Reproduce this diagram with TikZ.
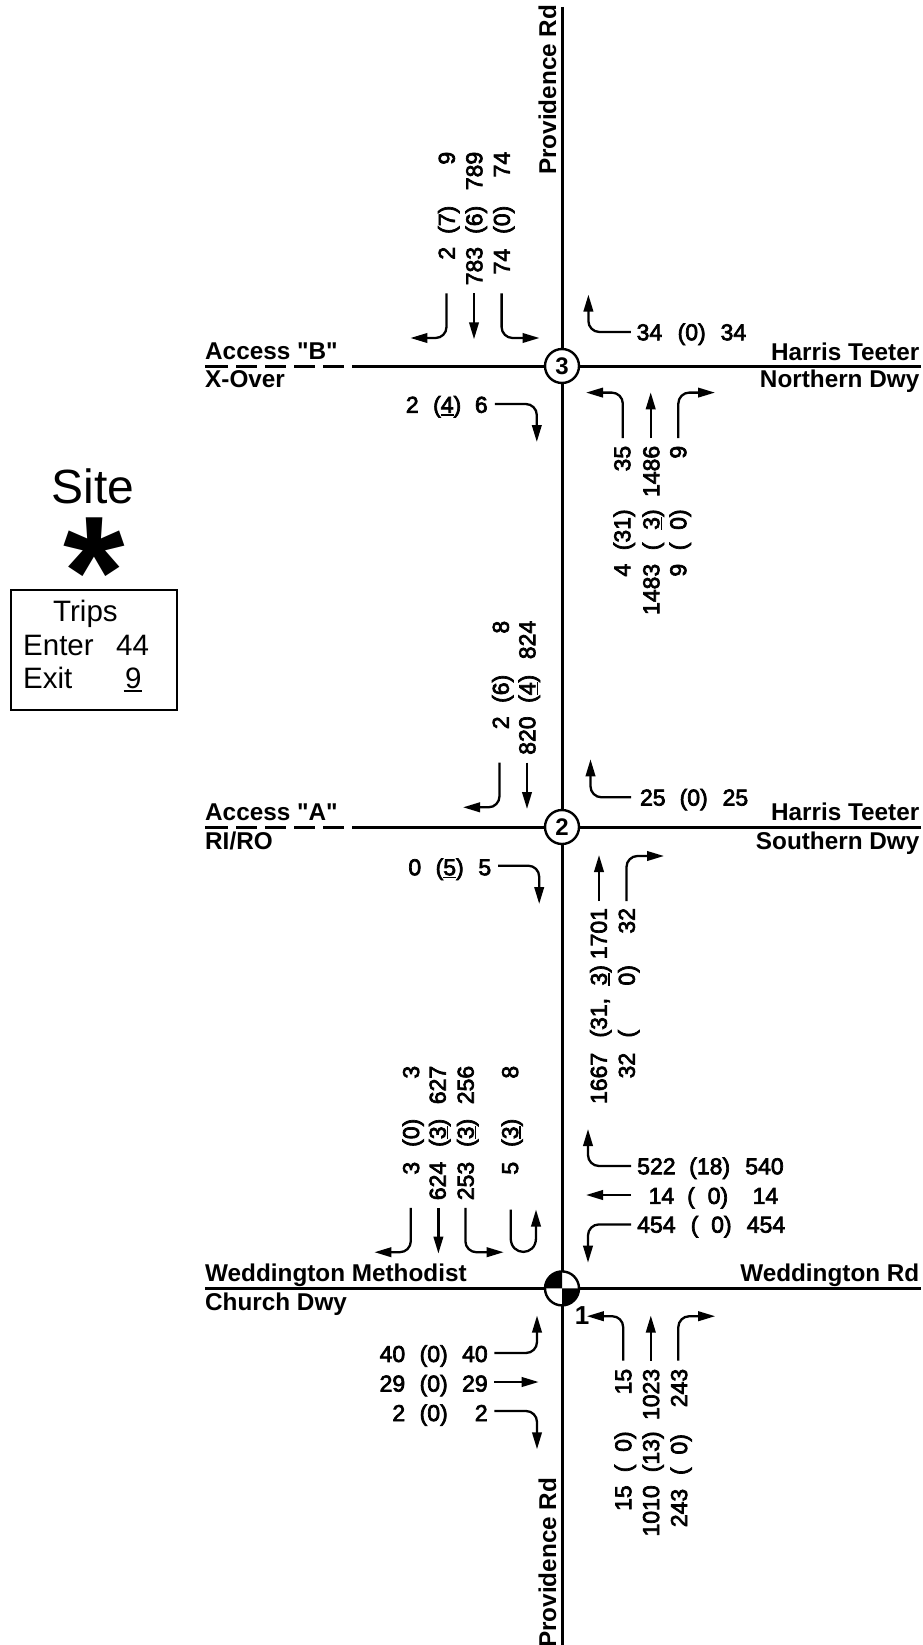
\documentclass[tikz,border=0pt]{standalone}
\usepackage{fontspec}
\usetikzlibrary{arrows.meta}
\setmainfont{Liberation Sans}
\newfontfamily\cadfont[FakeBold=3]{Liberation Sans}
\newfontfamily\boldfont{Liberation Sans Bold}
% #1 right edge of first column, #2 centre of middle column, #3 right edge of last column
\newcommand\tri[6]{\makebox[0pt][l]{\makebox[#1pt][r]{#4}}\makebox[0pt][l]{\makebox[\dimexpr#2pt*2\relax][c]{#5}}\makebox[#3pt][r]{#6}}
\newcommand\ul[1]{\makebox[0pt][l]{\rule[-2.8pt]{.556em}{1.5pt}}#1}
\newcommand\dsp{ \kern.278em }
\tikzset{
  rowh/.style={inner sep=0pt,anchor=west,text height=16.5pt,text depth=0pt,
    font=\cadfont\fontsize{23}{23}\selectfont},
  rowv/.style={rowh,rotate=90},
  roadname/.style={inner sep=0pt,font=\boldfont\fontsize{24.3}{24.3}\selectfont},
  road/.style={line width=3pt},
  mv/.style={line width=2.3pt,rounded corners=11pt,-{Triangle[length=17pt,width=9.5pt]}},
  sig/.style={circle,draw,fill=white,line width=2.4pt,minimum size=34pt,inner sep=0pt,
    font=\boldfont\fontsize{24}{24}\selectfont},
  boxtext/.style={inner sep=0pt,font=\fontsize{29.5}{29.5}\selectfont}
}
\begin{document}
\begin{tikzpicture}[x=1pt,y=-1pt]
\useasboundingbox (0,0) rectangle (922,1645);
% named points on the roads
\coordinate (top) at (562,7);
\coordinate (bot) at (562,1650);
\coordinate (i3p) at (562,366);
\coordinate (i2p) at (562,827);
\coordinate (i1p) at (562,1288.4);
\coordinate (l3) at (205,366);
\coordinate (s3) at (352,366);
\coordinate (r3) at (921,366);
\coordinate (l2) at (205,827);
\coordinate (s2) at (352,827);
\coordinate (r2) at (921,827);
\coordinate (l1) at (205,1288.4);
\coordinate (r1) at (921,1288.4);
% roads
\draw[road] (top) -- (bot);
\draw[road,dash pattern=on 23pt off 8pt on 21pt off 8pt on 21pt off 8pt on 21pt off 8pt on 21pt off 8pt] (l3) -- (s3);
\draw[road] (s3) -- (r3);
\draw[road,dash pattern=on 23pt off 8pt on 21pt off 8pt on 21pt off 8pt on 21pt off 8pt on 21pt off 8pt] (l2) -- (s2);
\draw[road] (s2) -- (r2);
\draw[road] (l1) -- (r1);
% signals
\node[sig] (i3) at (i3p) {3};
\node[sig] (i2) at (i2p) {2};
\node[sig] (i1) at (i1p) {};
\begin{scope}[shift={(i1.center)},x=1pt,y=1pt]
  \fill (0,0) -- (90:17.5) arc (90:180:17.5) -- cycle;
  \fill (0,0) -- (270:17.5) arc (270:360:17.5) -- cycle;
\end{scope}
\node[inner sep=0pt,font=\boldfont\fontsize{26}{26}\selectfont,anchor=base] (n1) at (582,1324) {1};
% road names
\node[roadname,rotate=90,anchor=base west] (provN) at (556,175) {Providence Rd};
\node[roadname,rotate=90,anchor=base west] (provS) at (556,1648) {Providence Rd};
\node[roadname,anchor=base west] (accB) at (205,359) {Access "B"};
\node[roadname,anchor=base west] (xov) at (205,387.5) {X-Over};
\node[roadname,anchor=base east] (htN) at (919.5,360) {Harris Teeter};
\node[roadname,anchor=base east] (ndw) at (919.5,387.5) {Northern Dwy};
\node[roadname,anchor=base west] (accA) at (205,820.7) {Access "A"};
\node[roadname,anchor=base west] (riro) at (205,849.3) {RI/RO};
\node[roadname,anchor=base east] (htS) at (919.5,820.7) {Harris Teeter};
\node[roadname,anchor=base east] (sdw) at (919.5,849.3) {Southern Dwy};
\node[roadname,anchor=base west] (wmeth) at (205,1281.4) {Weddington Methodist};
\node[roadname,anchor=base west] (cdw) at (205,1310.3) {Church Dwy};
\node[roadname,anchor=base east] (wrd) at (919.5,1281.4) {Weddington Rd};
% intersection 3 volumes
\node[rowv] (a31) at (446.5,285.5) {\tri{38.4}{65.5}{133.5}{2}{(7)}{9}};
\node[rowv] (a32) at (474,285.5) {\tri{38.4}{65.5}{133.5}{783}{(6)}{789}};
\node[rowv] (a33) at (501.6,285.5) {\tri{36.5}{65.5}{133.5}{74}{(0)}{74}};
\node[rowh] (a34) at (636,332) {\tri{26}{55.5}{110}{34}{(0)}{34}};
\node[rowh] (a35) at (405.5,404.5) {\tri{13}{41.5}{82}{2}{(\ul{4})}{6}};
\node[rowv] (a36) at (622,615) {\tri{51}{85}{169}{4}{(31)}{35}};
\node[rowv] (a37) at (651,615) {\tri{51}{85}{169}{1483}{(\dsp\ul{3})}{1486}};
\node[rowv] (a38) at (678,615) {\tri{51}{85}{169}{9}{(\dsp 0)}{9}};
% intersection 2 volumes
\node[rowv] (b21) at (500.5,755) {\tri{38.4}{66}{134}{2}{(6)}{8}};
\node[rowv] (b22) at (527,755) {\tri{38.4}{66}{134}{820}{(\ul{4})}{824}};
\node[rowh] (b23) at (639,797.3) {\tri{26.4}{54.5}{109}{25}{(0)}{25}};
\node[rowh] (b24) at (408,867) {\tri{13}{41.5}{83}{0}{(\ul{5})}{5}};
\node[rowv] (b25) at (598.5,1104.2) {\tri{51.2}{102.7}{196}{1667}{(31, \kern6pt\ul{3})}{1701}};
\node[rowv] (b26) at (626.5,1104.2) {\tri{51.2}{102.7}{196}{32}{( \kern38pt 0)}{32}};
% intersection 1 volumes
\node[rowv] (c11) at (410.8,1200.4) {\tri{38.4}{67.4}{134.4}{3}{(0)}{3}};
\node[rowv] (c12) at (437.4,1200.4) {\tri{38.4}{67.4}{134.4}{624}{(\ul{3})}{627}};
\node[rowv] (c13) at (465.4,1200.4) {\tri{38.4}{67.4}{134.4}{253}{(\ul{3})}{256}};
\node[rowv] (c14) at (509.8,1200.4) {\tri{38.4}{67.4}{134.4}{5}{(\ul{3})}{8}};
\node[rowh] (c15) at (636.5,1166) {\tri{38.9}{73}{147}{522}{(18)}{540}};
\node[rowh] (c16) at (636.5,1195.6) {\tri{37.5}{71}{141.5}{14}{(\dsp 0)}{14}};
\node[rowh] (c17) at (636.5,1224.4) {\tri{38.9}{74.5}{148.5}{454}{(\dsp 0)}{454}};
\node[rowh] (c18) at (379,1353.7) {\tri{26}{54.5}{108.5}{40}{(0)}{40}};
\node[rowh] (c19) at (379,1383.3) {\tri{26}{54.5}{108.5}{29}{(0)}{29}};
\node[rowh] (c20) at (379,1412.8) {\tri{26}{54.5}{108.5}{2}{(0)}{2}};
\node[rowv] (c21) at (623,1536.7) {\tri{51.2}{84.7}{167.7}{15}{(\dsp 0)}{15}};
\node[rowv] (c22) at (650.8,1536.7) {\tri{51.2}{84.7}{167.7}{1010}{(13)}{1023}};
\node[rowv] (c23) at (678.8,1536.7) {\tri{47.7}{82}{167.7}{243}{(\dsp 0)}{243}};
% intersection 3 arrows
\draw[mv] (446.5,293.4) -- (446.5,338) -- (410.4,338);
\draw[mv] (474,293.4) -- (474,339.3);
\draw[mv] (501.6,293.4) -- (501.6,338) -- (539.5,338);
\draw[mv] (630.8,332) -- (588.4,332) -- (588.4,294.6);
\draw[mv] (494.8,404) -- (536.8,404) -- (536.8,442);
\draw[mv] (622.8,438) -- (622.8,392.6) -- (586,392.6);
\draw[mv] (650.7,438) -- (650.7,392.3);
\draw[mv] (678.3,438) -- (678.3,392.6) -- (715,392.6);
% intersection 2 arrows
\draw[mv] (499.5,762.7) -- (499.5,807.3) -- (463,807.3);
\draw[mv] (527,762.7) -- (527,809);
\draw[mv] (631,797.3) -- (590.5,797.3) -- (590.5,759.3);
\draw[mv] (498,865.7) -- (539.2,865.7) -- (539.2,904);
\draw[mv] (599,901) -- (599,855);
\draw[mv] (626.5,901) -- (626.5,856) -- (664,856);
% intersection 1 arrows
\draw[mv] (410.8,1207.8) -- (410.8,1252.2) -- (374.4,1252.2);
\draw[mv] (438.4,1207.8) -- (438.4,1253.6);
\draw[mv] (465.4,1207.8) -- (465.4,1252.2) -- (503.7,1252.2);
\draw[line width=2.3pt,-{Triangle[length=17pt,width=9.5pt]}] (510.7,1209.5) -- (510.7,1238) .. controls (510.7,1256.5) and (536,1256.5) .. (536,1238) -- (536,1209.5);
\draw[mv] (631,1166) -- (588,1166) -- (588,1129);
\draw[mv] (631,1195) -- (586,1195);
\draw[mv] (631,1224.4) -- (588,1224.4) -- (588,1262.7);
\draw[mv] (494.4,1353) -- (537,1353) -- (537,1315.5);
\draw[mv] (494.4,1382) -- (538.7,1382);
\draw[mv] (494.4,1411) -- (537,1411) -- (537,1449.3);
\draw[mv] (623.2,1360.7) -- (623.2,1316.2) -- (586.8,1316.2);
\draw[mv] (650.8,1360.7) -- (650.8,1315.5);
\draw[mv] (678.3,1360.7) -- (678.3,1316.2) -- (715.2,1316.2);
% site legend
\node[inner sep=0pt,anchor=base,font=\fontsize{48}{48}\selectfont] (site) at (93,503.3) {Site};
\node[inner sep=0pt,anchor=base,font=\boldfont\fontsize{158}{158}\selectfont] (star) at (94,626) {*};
\node[draw,line width=2pt,inner sep=0pt,minimum width=166pt,minimum height=120pt] (tripbox) at (93.8,650) {};
\node[boxtext,anchor=base west] (trips) at (53,621.7) {Trips};
\node[boxtext,anchor=base west] (enter) at (23,655) {\makebox[93pt][l]{Enter}44};
\node[boxtext,anchor=base west] (exit) at (23,688.3) {\makebox[102pt][l]{Exit}\makebox[0pt][l]{\kern-1.5pt\rule[-3.5pt]{18.7pt}{1.6pt}}9};
\end{tikzpicture}
\end{document}
